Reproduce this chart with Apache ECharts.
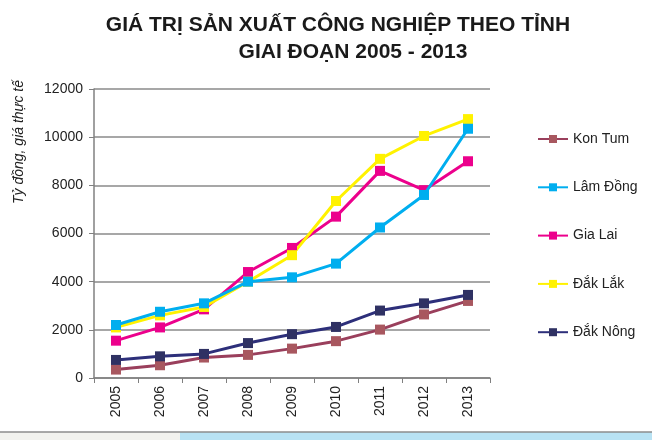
<!DOCTYPE html>
<html>
<head>
<meta charset="utf-8">
<script src="https://cdn.jsdelivr.net/npm/echarts@6/dist/echarts.min.js"></script>
<style>html,body{margin:0;padding:0;background:#fff}#c{width:652px;height:440px}</style>
</head>
<body>
<div id="c"></div>
<script>
const years = ['2005','2006','2007','2008','2009','2010','2011','2012','2013'];
const yTicks = [0, 2000, 4000, 6000, 8000, 10000, 12000];
const seriesNames = ['Kon Tum', 'Lâm Đồng', 'Gia Lai', 'Đắk Lắk', 'Đắk Nông'];
const konTum  = [350, 530, 850, 960, 1220, 1530, 2010, 2640, 3200];
const lamDong = [2200, 2750, 3100, 4000, 4180, 4750, 6250, 7600, 10350];
const giaLai  = [1550, 2100, 2850, 4400, 5400, 6700, 8600, 7800, 9000];
const dakLak  = [2100, 2600, 2950, 4000, 5100, 7350, 9100, 10050, 10750];
const dakNong = [750, 900, 1000, 1450, 1820, 2120, 2800, 3100, 3450];
const seriesData = [konTum, lamDong, giaLai, dakLak, dakNong];
const lineColors = ['#9a3f5c', '#00aeef', '#ec008c', '#fff200', '#2d2f7a'];
const markColors = ['#a8575f', '#00aeef', '#ec008c', '#fff200', '#2f3163'];

const chart = echarts.init(document.getElementById('c'));
const font = 'Arial, "Liberation Sans", sans-serif';
chart.setOption({
  animation: false,
  backgroundColor: '#fff',
  title: [
    { text: 'GIÁ TRỊ SẢN XUẤT CÔNG NGHIỆP THEO TỈNH', left: 333, top: 10, textAlign: 'center',
      textStyle: { fontFamily: font, fontSize: 21, fontWeight: 'bold', color: '#1a1a1a' } },
    { text: 'GIAI ĐOẠN 2005 - 2013', left: 348, top: 37, textAlign: 'center',
      textStyle: { fontFamily: font, fontSize: 21, fontWeight: 'bold', color: '#1a1a1a' } }
  ],
  grid: { left: 94, right: 162, top: 89, bottom: 62, containLabel: false },
  legend: {
    orient: 'vertical', left: 532, top: 127,
    itemWidth: 30, itemHeight: 10, itemGap: 34.3,
    textStyle: { fontFamily: font, fontSize: 14, color: '#222' },
    data: seriesNames
  },
  xAxis: {
    type: 'category', data: years, boundaryGap: true,
    axisLine: { lineStyle: { color: '#808080', width: 1.5 } },
    axisTick: { show: true, length: 5, lineStyle: { color: '#808080' } },
    axisLabel: { rotate: 90, margin: 8, fontFamily: font, fontSize: 14, color: '#222' }
  },
  yAxis: {
    type: 'value', min: 0, max: 12000, interval: 2000,
    axisLine: { show: true, lineStyle: { color: '#808080', width: 1.5 } },
    axisTick: { show: true, length: 5, lineStyle: { color: '#808080' } },
    axisLabel: { margin: 11, fontFamily: font, fontSize: 14, color: '#222',
      customValues: yTicks, formatter: v => String(v) },
    splitLine: { show: true, lineStyle: { color: '#8a8a8a', width: 1.5 } }
  },
  graphic: [
    { type: 'text', x: 19, y: 142, rotation: Math.PI / 2,
      style: { text: 'Tỷ đồng, giá thực tế', fontFamily: font, fontSize: 14, fontStyle: 'italic',
        fill: '#222', align: 'center', verticalAlign: 'middle' } },
    { type: 'rect', shape: { x: 0, y: 432, width: 652, height: 8 },
      style: { fill: '#b8e2f3' } },
    { type: 'rect', shape: { x: 0, y: 432, width: 180, height: 8 },
      style: { fill: '#f2f2ee' } },
    { type: 'line', shape: { x1: 0, y1: 432, x2: 652, y2: 432 },
      style: { stroke: '#8c8c8c', lineWidth: 1.5 } }
  ],
  series: seriesNames.map((n, i) => ({
    name: n, type: 'line', data: seriesData[i],
    symbol: 'rect', symbolSize: 10,
    lineStyle: { color: lineColors[i], width: 3 },
    itemStyle: { color: markColors[i] },
    z: 2 + (i === 1 ? 1 : 0)
  }))
});
</script>
</body>
</html>
